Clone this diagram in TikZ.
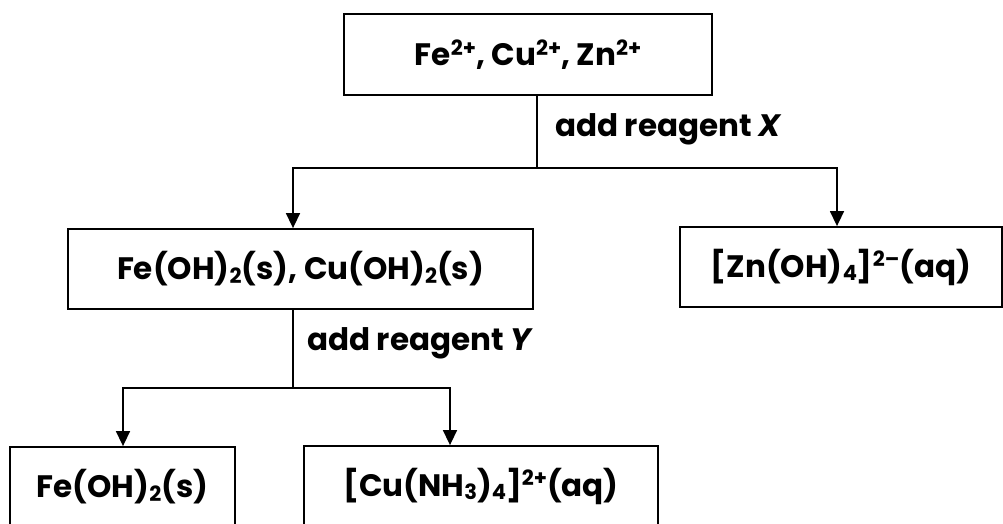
\documentclass[tikz,border=0pt]{standalone}
\usepackage{fontspec}
\setmainfont{Poppins}
\usetikzlibrary{arrows.meta,calc}
\newcommand\chsup[1]{\raisebox{0.33em}{\fontsize{21}{21}\selectfont #1}}
\newcommand\chsub[1]{\raisebox{-0.1em}{\fontsize{21}{21}\selectfont #1}}
\tikzset{
  box/.style={draw, line width=1.8pt, minimum width=#1, minimum height=80pt, inner sep=0pt,
    font=\bfseries\fontsize{31}{36}\selectfont},
  conn/.style={line width=1.5pt},
  arr/.style={conn, -{Triangle[length=15pt,width=14pt]}},
  lbl/.style={anchor=base west, inner sep=0pt, font=\bfseries\fontsize{31}{36}\selectfont}
}
\begin{document}
\begin{tikzpicture}[x=1pt,y=1pt]
\useasboundingbox (0,0) rectangle (1003,523);
\node[box=368pt, minimum height=81pt] (top) at (528,468.5) {Fe\chsup{2+}, Cu\chsup{2+}, Zn\chsup{2+}};
\node[box=465pt] (midL) at (300.5,254) {Fe(OH)\chsub{2}(s), Cu(OH)\chsub{2}(s)};
\node[box=322pt] (midR) at (841,256) {[Zn(OH)\chsub{4}]\chsup{2–}(aq)};
\node[box=225pt] (botL) at (122.5,36) {Fe(OH)\chsub{2}(s)};
\node[box=354pt] (botR) at (481,37) {[Cu(NH\chsub{3})\chsub{4}]\chsup{2+}(aq)};
\coordinate (j1) at (537,355);
\coordinate (j2) at (293,135);
\node[lbl] (lx) at (555,386) {add reagent \textit{X}};
\node[lbl] (ly) at (307,173) {add reagent \textit{Y}};
\draw[conn] (j1 |- top.south) -- (j1);
\draw[arr] (j1) -| ($(midL.north)+(-7.5,0)$);
\draw[arr] (j1) -| ($(midR.north)+(-4,0)$);
\draw[conn] (j2 |- midL.south) -- (j2);
\draw[arr] (j2) -| ($(botL.north)+(0.5,0)$);
\draw[arr] (j2) -| ($(botR.north)+(-31,0)$);
\end{tikzpicture}
\end{document}
